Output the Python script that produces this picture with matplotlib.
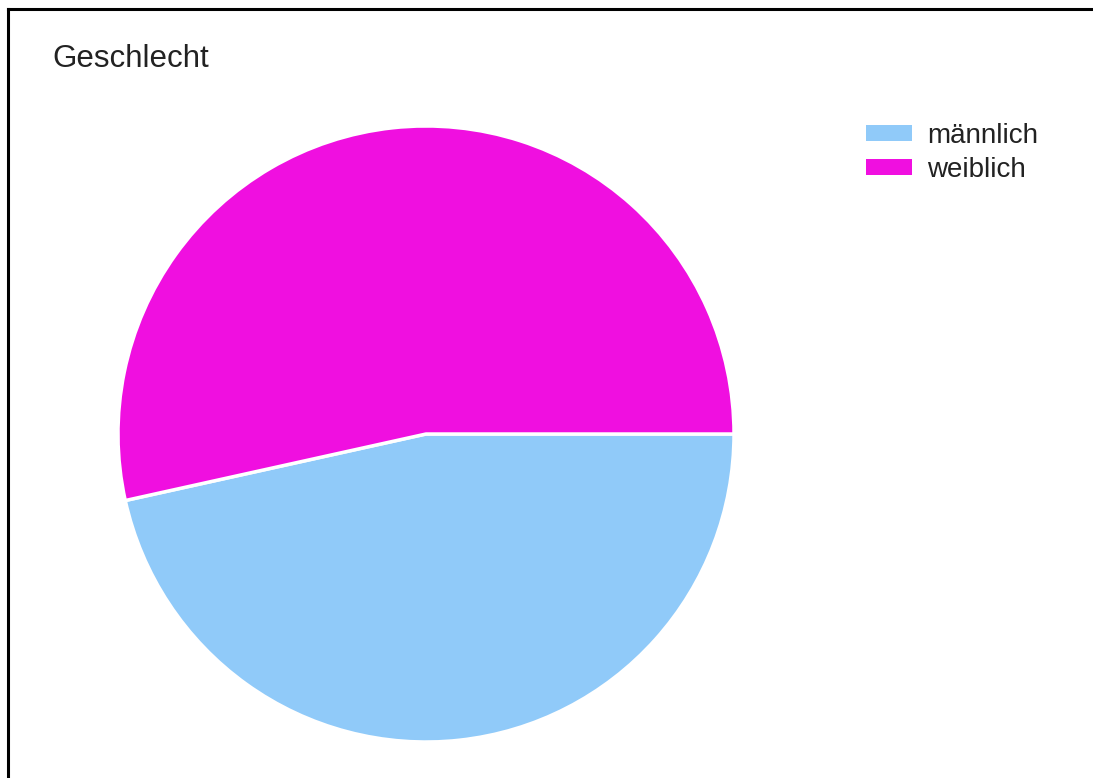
import matplotlib.pyplot as plt
from matplotlib.patches import Patch
from matplotlib.lines import Line2D

labels = ['männlich', 'weiblich']
values = [47, 54]
colors = ['#90CAF9', '#F00FE0']

W, H = 1093, 778
fig = plt.figure(figsize=(W / 100, H / 100), dpi=100)
plt.rcParams['font.family'] = ['Liberation Sans', 'DejaVu Sans']

# pie centre (426, 434), radius 308 px
cx, cy, r = 426, 434, 308
ax = fig.add_axes([(cx - r) / W, (H - cy - r) / H, 2 * r / W, 2 * r / H])
ax.pie(values, colors=colors, startangle=0, counterclock=False,
       wedgeprops={'edgecolor': 'white', 'linewidth': 2.5})
ax.set_aspect('equal')
ax.set_xlim(-1, 1)
ax.set_ylim(-1, 1)

fig.text(52 / W, 1 - 67 / H, 'Geschlecht', fontsize=22.5, color='#222222',
         ha='left', va='baseline')

handles = [Patch(facecolor=c, edgecolor='none') for c in colors]
fig.legend(handles, labels, loc='upper left', bbox_to_anchor=(866 / W, 1 - 123 / H),
           frameon=False, fontsize=20, handlelength=1.65, handleheight=0.47,
           handletextpad=0.55, labelspacing=0.28, borderpad=0, borderaxespad=0,
           labelcolor='#222222')

# frame lines (top and left)
fig.add_artist(Line2D([8 / W, 1], [1 - 9 / H, 1 - 9 / H], color='black', lw=2.2,
                      transform=fig.transFigure))
fig.add_artist(Line2D([8 / W, 8 / W], [0, 1 - 9 / H], color='black', lw=2.2,
                      transform=fig.transFigure))

fig.savefig('out.png', dpi=100)
